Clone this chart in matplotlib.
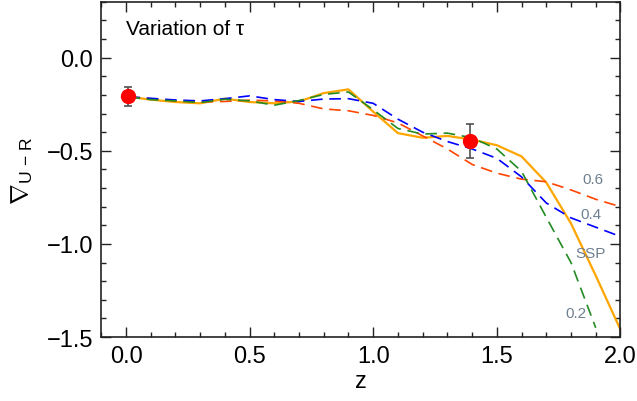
import numpy as np
import matplotlib.pyplot as plt
from matplotlib.ticker import MultipleLocator, FuncFormatter

plt.rcParams['font.family'] = ['Liberation Sans', 'DejaVu Sans']
plt.rcParams['mathtext.fontset'] = 'custom'
plt.rcParams['mathtext.rm'] = 'Liberation Sans'
plt.rcParams['mathtext.it'] = 'Liberation Sans:italic'

# model tracks, sampled in redshift
z = [0.01, 0.1, 0.2, 0.3, 0.4, 0.5, 0.6, 0.7, 0.8, 0.9, 1.0,
     1.1, 1.2, 1.3, 1.4, 1.5, 1.6, 1.7, 1.8, 1.9, 2.0]
ssp = [-0.21, -0.225, -0.238, -0.245, -0.22, -0.238, -0.245, -0.235, -0.19, -0.17, -0.29,
       -0.405, -0.43, -0.42, -0.44, -0.47, -0.53, -0.67, -0.89, -1.17, -1.46]
tau06 = [-0.21, -0.22, -0.232, -0.238, -0.235, -0.228, -0.232, -0.245, -0.275, -0.285, -0.31,
         -0.35, -0.42, -0.49, -0.573, -0.62, -0.652, -0.666, -0.71, -0.76, -0.80]
tau04 = [-0.21, -0.218, -0.227, -0.232, -0.22, -0.205, -0.225, -0.235, -0.222, -0.22, -0.245,
         -0.33, -0.40, -0.45, -0.49, -0.54, -0.64, -0.78, -0.86, -0.91, -0.96]
z02 = z[:-1]
tau02 = [-0.21, -0.225, -0.232, -0.241, -0.223, -0.232, -0.255, -0.23, -0.197, -0.184, -0.28,
         -0.38, -0.41, -0.405, -0.43, -0.49, -0.61, -0.857, -1.10, -1.45]

# observed points
obs_z = [0.01, 1.39]
obs_v = [-0.207, -0.448]
obs_err = [0.05, 0.09]


def fmt(v, pos):
    return ('%.1f' % v).replace('-', '\u2212')


fig = plt.figure(figsize=(6.37, 4.02), dpi=100)
ax = fig.add_axes([0.159, 0.159, 0.815, 0.834])

ax.plot(z, ssp, color='#FFA500', lw=1.6, zorder=2)
ax.plot(z, tau06, color='#FF4500', lw=1.2, dashes=(7, 4), zorder=3)
ax.plot(z, tau04, color='#0000FF', lw=1.2, dashes=(7, 4), zorder=3)
ax.plot(z02, tau02, color='#228B22', lw=1.2, dashes=(7, 4), zorder=3)

ax.errorbar(obs_z, obs_v, yerr=obs_err, fmt='none', ecolor='#505050',
            elinewidth=1.2, capsize=3, capthick=1.2, zorder=4)
ax.plot(obs_z, obs_v, 'o', color='red', ms=10, zorder=5)

lab_col = '#708090'
ax.text(1.89, -0.65, '0.6', color=lab_col, fontsize=11, ha='center', va='center')
ax.text(1.88, -0.84, '0.4', color=lab_col, fontsize=11, ha='center', va='center')
ax.text(1.88, -1.05, 'SSP', color=lab_col, fontsize=11, ha='center', va='center')
ax.text(1.82, -1.37, '0.2', color=lab_col, fontsize=11, ha='center', va='center')

ax.text(0.0, 0.155, 'Variation of τ', fontsize=15, ha='left', va='center')

ax.set_xlim(-0.1, 2.0)
ax.set_ylim(-1.5, 0.3)
ax.xaxis.set_major_locator(MultipleLocator(0.5))
ax.xaxis.set_minor_locator(MultipleLocator(0.1))
ax.yaxis.set_major_locator(MultipleLocator(0.5))
ax.yaxis.set_minor_locator(MultipleLocator(0.1))
ax.xaxis.set_major_formatter(FuncFormatter(fmt))
ax.yaxis.set_major_formatter(FuncFormatter(fmt))
ax.tick_params(which='both', direction='in', top=True, right=True,
               labelsize=17, color='#222222', width=1)
ax.tick_params(which='major', length=7, pad=6)
ax.tick_params(which='minor', length=3.6)
for s in ax.spines.values():
    s.set_linewidth(1.2)
    s.set_color('#222222')

ax.set_xlabel('z', fontsize=17, labelpad=2)
ax.set_ylabel(r'$\nabla_{\rm U\,-\,R}$', fontsize=18, labelpad=8)

fig.savefig('out.png', dpi=100)
